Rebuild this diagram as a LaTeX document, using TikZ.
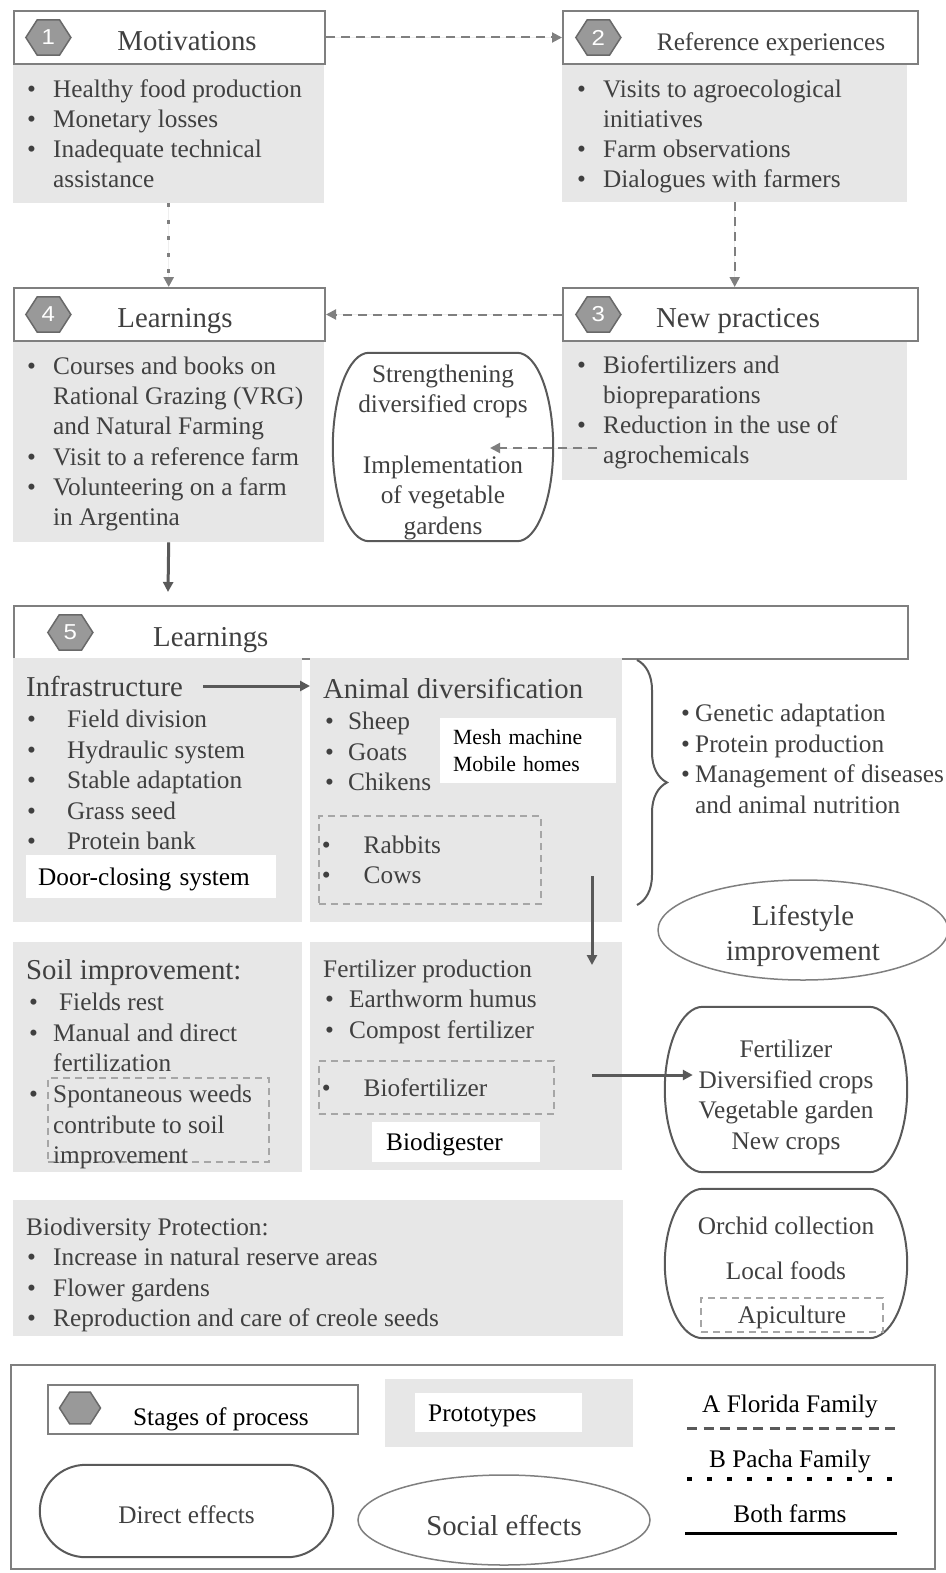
\documentclass[tikz,border=0pt]{standalone}
\usepackage{fontspec}
\setmainfont{Liberation Serif}
\newfontfamily\numfont{Liberation Sans}
\usetikzlibrary{arrows.meta,positioning,calc,shapes.geometric,decorations.pathreplacing}

\definecolor{hdrline}{RGB}{127,127,127}
\definecolor{bodyfill}{RGB}{231,231,231}
\definecolor{hexfill}{RGB}{153,153,153}
\definecolor{hexline}{RGB}{105,105,105}
\definecolor{txt}{RGB}{64,64,64}
\definecolor{arrowdark}{RGB}{89,89,89}
\definecolor{dashgray}{RGB}{166,166,166}

\newcommand{\txtsize}{\fontsize{25.3}{30.5}\selectfont}
\newcommand{\topsize}{\fontsize{25.3}{30.1}\selectfont}
\newcommand{\ttlsize}{\fontsize{28.8}{35}\selectfont}
\newcommand{\smlsize}{\fontsize{21.7}{27}\selectfont}
\newcommand{\bitem}[2][26pt]{\makebox[#1][l]{\textbullet}#2}
\newcommand{\bcont}[2][26pt]{\hspace*{#1}#2}
% outline with elliptic ends round a rectangle node: #1 node, #2 depth of the ends
\newcommand{\effectshape}[2]{%
  \draw[effectline] ($(#1.north west)!#2!(#1.north east)$) -- ($(#1.north east)!#2!(#1.north west)$)
    .. controls ($(#1.north east)!0.448*#2!(#1.north west)$) and ($(#1.east)!0.552!(#1.north east)$) .. (#1.east)
    .. controls ($(#1.east)!0.552!(#1.south east)$) and ($(#1.south east)!0.448*#2!(#1.south west)$) .. ($(#1.south east)!#2!(#1.south west)$)
    -- ($(#1.south west)!#2!(#1.south east)$)
    .. controls ($(#1.south west)!0.448*#2!(#1.south east)$) and ($(#1.west)!0.552!(#1.south west)$) .. (#1.west)
    .. controls ($(#1.west)!0.552!(#1.north west)$) and ($(#1.north west)!0.448*#2!(#1.north east)$) .. cycle;}

\begin{document}
\begin{tikzpicture}[x=1pt,y=-1pt,>={Triangle[length=10pt,width=10pt]},
    every node/.style={font=\txtsize, text=txt, inner sep=0pt},
    header/.style={draw=hdrline, line width=2pt, fill=white, minimum height=53pt, anchor=north west},
    body/.style={fill=bodyfill},
    list/.style={anchor=north west, align=left},
    toplist/.style={list, font=\topsize},
    hexa/.style={regular polygon, regular polygon sides=6, minimum size=45pt, yscale=0.9, draw=hexline,
      fill=hexfill, line width=1.5pt, text=white, font=\numfont\fontsize{24}{26}\selectfont},
    panel/.style={fill=bodyfill, anchor=north west},
    prototype/.style={fill=white, anchor=north west, align=left, text=black},
    dashbox/.style={draw=dashgray, line width=1.5pt, dash pattern=on 7pt off 5pt, anchor=north west, align=left},
    effectarea/.style={rectangle, draw=none},
    effectline/.style={draw=arrowdark, line width=2pt},
    social/.style={ellipse, draw=hdrline, line width=1.5pt},
    flowA/.style={->, draw=hdrline, fill=hdrline, line width=2pt, dash pattern=on 9pt off 6pt},
    flowB/.style={->, draw=hdrline, fill=hdrline, line width=3.5pt, dash pattern=on 4pt off 12.5pt},
    flowAB/.style={->, draw=arrowdark, fill=arrowdark, line width=3pt}]
  \useasboundingbox (0,0) rectangle (945,1573);

  % stages 1-4
  \node[header, minimum width=311pt] (mot) at (13,10) {};
  \node[hexa, right=12pt of mot.west] (hex1) {1};
  \node[anchor=base, font=\ttlsize] (mottitle) at (187,51) {Motivations};
  \node[body, below=0pt of mot.south west, anchor=north west, minimum width=311pt, minimum height=138pt] (motbody) {};
  \node[toplist] (motlist) at (27,79.5)
    {\bitem{Healthy food production}\\ \bitem{Monetary losses}\\ \bitem{Inadequate technical}\\ \bcont{assistance}};

  \node[header, minimum width=355pt] (ref) at (562,10) {};
  \node[hexa, right=13pt of ref.west] (hex2) {2};
  \node[anchor=base] (reftitle) at (771,51) {Reference experiences};
  \node[body, below=0pt of ref.south west, anchor=north west, minimum width=345pt, minimum height=137pt] (refbody) {};
  \node[toplist] (reflist) at (577,79.5)
    {\bitem{Visits to agroecological}\\ \bcont{initiatives}\\ \bitem{Farm observations}\\ \bitem{Dialogues with farmers}};

  \node[header, minimum width=311pt] (learn) at (13,287) {};
  \node[hexa, right=12pt of learn.west] (hex4) {4};
  \node[anchor=base, font=\ttlsize] (learntitle) at (175,327) {Learnings};
  \node[body, below=0pt of learn.south west, anchor=north west, minimum width=311pt, minimum height=200pt] (learnbody) {};
  \node[toplist] (learnlist) at (27,357)
    {\bitem{Courses and books on}\\ \bcont{Rational Grazing (VRG)}\\ \bcont{and Natural Farming}\\
     \bitem{Visit to a reference farm}\\ \bitem{Volunteering on a farm}\\ \bcont{in Argentina}};

  \node[header, minimum width=355pt] (newpr) at (562,287) {};
  \node[hexa, right=13pt of newpr.west] (hex3) {3};
  \node[anchor=base, font=\ttlsize] (newprtitle) at (738,327) {New practices};
  \node[body, below=0pt of newpr.south west, anchor=north west, minimum width=345pt, minimum height=138pt] (newprbody) {};
  \node[toplist] (newprlist) at (577,355.5)
    {\bitem{Biofertilizers and}\\ \bcont{biopreparations}\\ \bitem{Reduction in the use of}\\ \bcont{agrochemicals}};

  \node[effectarea, minimum width=220pt, minimum height=188pt] (strength) at (443,447) {};
  \effectshape{strength}{36pt}
  \node[align=center] (strengthtxt) at ($(strength.center)+(0,5)$)
    {Strengthening\\diversified crops\\[30pt]Implementation\\of vegetable\\gardens};

  \coordinate (newprout) at (597,448);
  \coordinate (strengthin) at (490,448);
  \coordinate (learnin) at (168,592);

  \draw[flowA] (mot.east) -- (ref.west);
  \draw[flowA] (refbody.south) -- (refbody.south |- newpr.north);
  \draw[flowA] (newpr.west) -- (learn.east);
  \draw[flowA] (newprout) -- (strengthin);
  \draw[flowB] (motbody.south) -- (motbody.south |- learn.north);
  \draw[flowAB] (learnbody.south) -- (learnin);

  % stage 5
  \node[header, minimum width=894pt] (learnfive) at (13,605) {};
  \node[hexa, right=34pt of learnfive.west] (hex5) {5};
  \node[anchor=base west, font=\ttlsize] (learnfivetitle) at (153,646) {Learnings};

  \node[panel, minimum width=289pt, minimum height=264pt] (infra) at (13,658) {};
  \node[panel, minimum width=312pt, minimum height=264pt] (animal) at (310,658) {};
  \node[panel, minimum width=289pt, minimum height=230pt] (soil) at (13,942) {};
  \node[panel, minimum width=312pt, minimum height=228pt] (fert) at (310,942) {};
  \node[panel, minimum width=610pt, minimum height=136pt] (biodiv) at (13,1200) {};

  \node[anchor=base west, font=\ttlsize] (infratitle) at (26,696) {Infrastructure};
  \node[list] (infralist) at (27,710)
    {\bitem[40pt]{Field division}\\ \bitem[40pt]{Hydraulic system}\\ \bitem[40pt]{Stable adaptation}\\
     \bitem[40pt]{Grass seed}\\ \bitem[40pt]{Protein bank}};
  \node[prototype, minimum width=250pt, minimum height=43pt, text width=226pt, inner xsep=12pt, text depth=0pt] (door) at (26,855) {Door-closing system};

  \node[anchor=base west, font=\ttlsize] (animaltitle) at (323,698) {Animal diversification};
  \node[list] (animallist) at (325,712)
    {\bitem[23pt]{Sheep}\\ \bitem[23pt]{Goats}\\ \bitem[23pt]{Chikens}};
  \node[prototype, minimum width=176pt, minimum height=65pt, text width=150pt, inner xsep=13pt, font=\smlsize] (mesh) at (440,718)
    {Mesh machine\\Mobile homes};
  \node[dashbox, minimum width=222pt, minimum height=88pt, text width=216pt, inner xsep=3pt] (rabbits) at (318,815)
    {\bitem[42pt]{Rabbits}\\ \bitem[42pt]{Cows}};
  \draw[flowAB] ([xshift=20pt]infratitle.east) -- (infratitle.east -| animal.west);

  \coordinate (bracetop) at (637,660);
  \coordinate (bracebot) at (637,905);
  \draw[decorate, decoration={brace, amplitude=30pt}, draw=arrowdark, line width=2pt] (bracetop) -- (bracebot);
  \node[list] (traits) at (681,704)
    {\bitem[14pt]{Genetic adaptation}\\ \bitem[14pt]{Protein production}\\ \bitem[14pt]{Management of diseases}\\ \bcont[14pt]{and animal nutrition}};
  \node[social, minimum width=290pt, minimum height=100pt] (lifestyle) at (803,930) {};
  \node[align=center, font=\ttlsize] (lifestyletxt) at ($(lifestyle.center)+(0,6)$) {Lifestyle\\improvement};

  \node[anchor=base west, font=\ttlsize] (soiltitle) at (26,979) {Soil improvement:};
  \node[list] (soillist) at (29,993)
    {\bitem[30pt]{Fields rest}\\ \bitem[24pt]{Manual and direct}\\ \bcont[24pt]{fertilization}\\ \textbullet};
  \node[dashbox, minimum width=221pt, minimum height=84pt] (weeds) at (47,1077) {};
  \node[list] (weedstxt) at (53,1085) {Spontaneous weeds\\contribute to soil\\improvement};

  \node[anchor=base west] (fertitle) at (323,977) {Fertilizer production};
  \node[list] (fertlist) at (325,990)
    {\bitem[24pt]{Earthworm humus}\\ \bitem[24pt]{Compost fertilizer}};
  \node[dashbox, minimum width=235pt, minimum height=53pt, text width=229pt, inner xsep=3pt, text depth=0pt] (biofert) at (318,1060)
    {\bitem[42pt]{Biofertilizer}};
  \node[prototype, minimum width=168pt, minimum height=40pt, text width=140pt, inner xsep=14pt, text depth=0pt] (biodig) at (372,1122) {Biodigester};

  \node[effectarea, minimum width=242pt, minimum height=165pt] (crops) at (786,1089.5) {};
  \effectshape{crops}{38pt}
  \node[align=center] (cropstxt) at ($(crops.center)+(0,8)$)
    {Fertilizer\\Diversified crops\\Vegetable garden\\New crops};

  \node[anchor=base west] (biodivtitle) at (26,1235) {Biodiversity Protection:};
  \node[list] (biodivlist) at (27,1248)
    {\bitem{Increase in natural reserve areas}\\ \bitem{Flower gardens}\\ \bitem{Reproduction and care of creole seeds}};

  \node[effectarea, minimum width=242pt, minimum height=149pt] (orchid) at (786,1263.5) {};
  \effectshape{orchid}{38pt}
  \node (orchidtxt) at (786,1226) {Orchid collection};
  \node (localfoods) at (786,1271) {Local foods};
  \node[dashbox, anchor=center, minimum width=182pt, minimum height=34pt, text depth=0pt] (apicult) at (792,1315) {Apiculture};

  \coordinate (animalout) at (592,876);
  \coordinate (fertin) at (592,965);
  \coordinate (fertout) at (592,1075);
  \draw[flowAB] (animalout) -- (fertin);
  \draw[flowAB] (fertout) -- ($(fertout -| crops.west)+(28,0)$);

  % legend
  \node[draw=hdrline, line width=1.5pt, minimum width=924pt, minimum height=204pt, anchor=north west] (legend) at (10,1364) {};
  \node[header, minimum width=310pt, minimum height=49pt] (keystage) at (47,1384) {};
  \node[hexa, minimum size=41pt] (keyhex) at (80,1408) {};
  \node[anchor=base, text=black] (keystagetxt) at (221,1425) {Stages of process};
  \node[panel, minimum width=248pt, minimum height=68pt] (keyproto) at (385,1379) {};
  \node[prototype, minimum width=167pt, minimum height=39pt, text width=141pt, inner xsep=13pt, text depth=0pt] (keyprotobox) at (415,1393) {Prototypes};
  \node[anchor=base, text=black] (keyA) at (790,1412) {A Florida Family};
  \node[anchor=base, text=black] (keyB) at (790,1467) {B Pacha Family};
  \node[anchor=base, text=black] (keyAB) at (790,1522) {Both farms};
  \coordinate (keyAl) at (687,1428.5);  \coordinate (keyAr) at (897,1428.5);
  \coordinate (keyBl) at (687,1479);    \coordinate (keyBr) at (892,1479);
  \coordinate (keyABl) at (685,1533.5); \coordinate (keyABr) at (897,1533.5);
  \draw[draw=arrowdark, line width=3pt, dash pattern=on 10pt off 6.5pt] (keyAl) -- (keyAr);
  \draw[draw=black, line width=4.5pt, dash pattern=on 4.5pt off 15.5pt] (keyBl) -- (keyBr);
  \draw[draw=black, line width=3.5pt] (keyABl) -- (keyABr);
  \node[effectarea, minimum width=293pt, minimum height=92pt] (keydirect) at (186.5,1511) {};
  \effectshape{keydirect}{46pt}
  \node (keydirecttxt) at ($(keydirect.center)+(0,4)$) {Direct effects};
  \node[social, minimum width=292pt, minimum height=90pt] (keysocial) at (504,1520) {};
  \node[font=\ttlsize] (keysocialtxt) at ($(keysocial.center)+(0,5)$) {Social effects};
\end{tikzpicture}
\end{document}
